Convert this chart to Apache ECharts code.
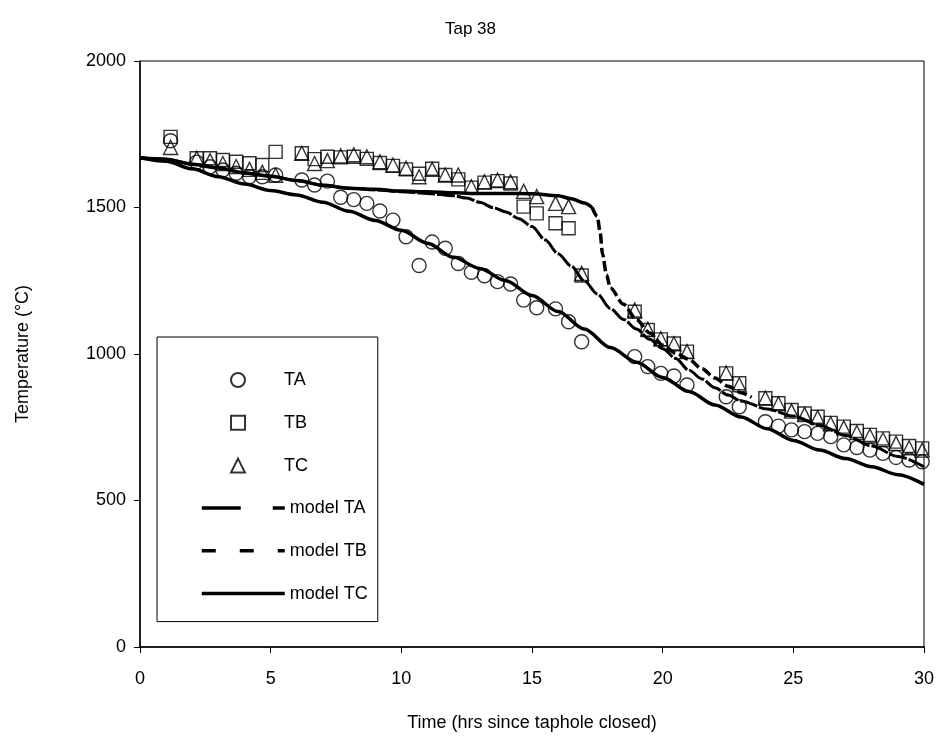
<!DOCTYPE html>
<html>
<head>
<meta charset="utf-8">
<script src="https://cdn.jsdelivr.net/npm/echarts@6/dist/echarts.min.js"></script>
<style>
html,body{margin:0;padding:0;background:#fff;}
#chart{width:941px;height:747px;}
</style>
</head>
<body>
<div id="chart"></div>
<script>
// ---------- data ----------
const titleText = 'Tap 38';
const xAxisName = 'Time (hrs since taphole closed)';
const yAxisName = 'Temperature (°C)';

const times = [1.17, 2.17, 2.68, 3.17, 3.68, 4.19, 4.68, 5.19, 6.19, 6.68, 7.17, 7.68, 8.18, 8.68, 9.18, 9.68, 10.18, 10.68, 11.18, 11.68, 12.18, 12.68, 13.18, 13.68, 14.18, 14.68, 15.18, 15.9, 16.4, 16.9, 18.93, 19.43, 19.93, 20.43, 20.93, 22.43, 22.93, 23.93, 24.43, 24.93, 25.43, 25.93, 26.43, 26.93, 27.43, 27.93, 28.43, 28.93, 29.43, 29.93];

const taValues = [1728, 1655, 1639, 1628, 1617, 1605, 1605, 1611, 1594, 1577, 1590, 1535, 1527, 1514, 1488, 1457, 1400, 1302, 1382, 1361, 1309, 1279, 1267, 1247, 1239, 1184, 1158, 1154, 1110, 1042, 991, 957, 934, 925, 894, 854, 820, 769, 754, 741, 735, 729, 718, 690, 681, 672, 661, 647, 638, 632];

const tbValues = [1741, 1668, 1668, 1662, 1656, 1651, 1645, 1690, 1685, 1665, 1673, 1671, 1673, 1666, 1652, 1642, 1630, 1615, 1632, 1611, 1596, 1568, 1585, 1590, 1582, 1503, 1480, 1446, 1429, 1268, 1144, 1082, 1050, 1036, 1008, 934, 900, 849, 832, 809, 797, 786, 765, 752, 737, 724, 712, 701, 686, 678];

const tcValues = [1705, 1668, 1660, 1650, 1640, 1630, 1620, 1610, 1685, 1650, 1660, 1676, 1680, 1673, 1656, 1645, 1634, 1605, 1630, 1611, 1611, 1571, 1588, 1594, 1588, 1555, 1537, 1514, 1503, 1275, 1150, 1085, 1052, 1035, 1008, 935, 895, 850, 830, 805, 793, 783, 762, 748, 732, 720, 708, 695, 680, 672];

// model TA (middle curve)
const modelATimes = [0, 1, 2, 3, 4, 5, 6, 7, 8, 9, 10, 11, 12, 12.5, 13, 13.5, 14, 14.5, 15, 15.5, 16, 16.5, 17, 17.5, 18, 18.5, 19, 19.5, 20, 20.5, 21, 21.5, 22, 22.5, 23, 24, 25, 26, 27, 28, 29, 30];
const modelAValues = [1670, 1665, 1648, 1635, 1618, 1607, 1592, 1576, 1566, 1560, 1554, 1548, 1540, 1532, 1518, 1500, 1485, 1462, 1435, 1390, 1342, 1300, 1250, 1205, 1155, 1118, 1085, 1050, 1018, 985, 945, 915, 885, 860, 840, 812, 788, 757, 722, 686, 650, 615];

// model TB (flat then sharp drop) – solid early part and dashed late part
const modelBTimesEarly = [0, 1, 2, 3, 4, 5, 6, 7, 8, 9, 10, 11, 12, 13, 14, 15, 16, 16.5, 17, 17.3];
const modelBValuesEarly = [1670, 1665, 1648, 1635, 1618, 1607, 1592, 1576, 1566, 1562, 1556, 1554, 1550, 1548, 1548, 1547, 1540, 1530, 1515, 1500];
const modelBTimesLate = [17.3, 17.5, 17.6, 17.7, 17.85, 18, 18.5, 19, 19.5, 20, 20.5, 21, 21.5, 22, 22.5, 23, 23.4];
const modelBValuesLate = [1500, 1470, 1420, 1340, 1270, 1225, 1170, 1118, 1072, 1030, 1003, 982, 950, 918, 890, 868, 852];

// model TC (lowest solid curve)
const modelCTimes = [0, 1, 2, 3, 4, 5, 6, 7, 8, 9, 10, 11, 12, 13, 14, 15, 16, 17, 18, 19, 20, 21, 22, 23, 24, 25, 26, 27, 28, 29, 30];
const modelCValues = [1670, 1658, 1632, 1605, 1580, 1558, 1543, 1518, 1487, 1456, 1422, 1378, 1330, 1292, 1250, 1200, 1145, 1085, 1022, 972, 920, 872, 826, 785, 745, 705, 672, 643, 615, 588, 555];

const xTicks = {min: 0, max: 30, interval: 5};
const yTicks = {min: 0, max: 2000, interval: 500};

// ---------- chart ----------
const pair = (xs, ys) => xs.map((x, i) => [x, ys[i]]);
const font = 'Arial, "Liberation Sans", sans-serif';

const markerStyle = {color: 'rgba(0,0,0,0)', borderColor: '#000', borderWidth: 1.4};
const hideDot = {opacity: 0, borderWidth: 0, color: 'rgba(0,0,0,0)'};

const chart = echarts.init(document.getElementById('chart'), null, {renderer: 'canvas'});
chart.setOption({
  animation: false,
  backgroundColor: '#fff',
  title: {
    text: titleText, left: 'center', top: 16,
    textStyle: {fontFamily: font, fontSize: 17, fontWeight: 'normal', color: '#000'}
  },
  grid: {left: 140, right: 17, top: 61, bottom: 100, show: true, borderColor: '#000', borderWidth: 1, backgroundColor: 'transparent'},
  xAxis: {
    type: 'value', min: xTicks.min, max: xTicks.max, interval: xTicks.interval,
    name: xAxisName, nameLocation: 'middle', nameGap: 67,
    nameTextStyle: {fontFamily: font, fontSize: 18, color: '#000'},
    axisLine: {lineStyle: {color: '#000', width: 1.5}},
    axisTick: {show: true, inside: false, length: 6, lineStyle: {color: '#000'}},
    axisLabel: {fontFamily: font, fontSize: 18, color: '#000', margin: 23},
    splitLine: {show: false}
  },
  yAxis: {
    type: 'value', min: yTicks.min, max: yTicks.max, interval: yTicks.interval,
    name: yAxisName, nameLocation: 'middle', nameGap: 108, nameRotate: 90,
    nameTextStyle: {fontFamily: font, fontSize: 18, color: '#000'},
    axisLine: {show: true, lineStyle: {color: '#000', width: 1.5}},
    axisTick: {show: true, inside: false, length: 6, lineStyle: {color: '#000'}},
    axisLabel: {fontFamily: font, fontSize: 18, color: '#000', margin: 14, formatter: v => String(v)},
    splitLine: {show: false}
  },
  legend: [
    {
      // line legend, its box frames the whole legend
      orient: 'vertical', left: 157, top: 337, z: 4,
      padding: [162, 10, 19, 43],
      itemWidth: 83, itemHeight: 14, itemGap: 24.8,
      backgroundColor: '#fff', borderColor: '#000', borderWidth: 1,
      selectedMode: false,
      textStyle: {fontFamily: font, fontSize: 18, color: '#000'},
      data: [
        {name: 'model TA', lineStyle: {type: [39, 32], width: 3.5, color: '#000'}, itemStyle: hideDot},
        {name: 'model TB', lineStyle: {type: [14, 24], width: 3.5, color: '#000'}, itemStyle: hideDot},
        {name: 'model TC', lineStyle: {type: 'solid', width: 3.5, color: '#000'}, itemStyle: hideDot}
      ]
    },
    {
      // marker legend
      orient: 'vertical', left: 230, top: 371, z: 6,
      padding: 0,
      itemWidth: 14, itemHeight: 14, itemGap: 24.8,
      selectedMode: false,
      textStyle: {fontFamily: font, fontSize: 18, color: '#000', padding: [0, 0, 0, 34]},
      data: [{name: 'TA'}, {name: 'TB'}, {name: 'TC'}]
    }
  ],
  series: [
    {name: 'TA', type: 'scatter', symbol: 'circle', symbolSize: 14, itemStyle: markerStyle, data: pair(times, taValues), z: 2},
    {name: 'TB', type: 'scatter', symbol: 'rect', symbolSize: 13, itemStyle: markerStyle, data: pair(times, tbValues), z: 2},
    {name: 'TC', type: 'scatter', symbol: 'triangle', symbolSize: 14, itemStyle: markerStyle, data: pair(times, tcValues), z: 2},
    {name: 'model TA', type: 'line', showSymbol: false, symbol: 'none', smooth: 0.3, smoothMonotone: 'x',
     itemStyle: {color: '#000'},
     lineStyle: {color: '#000', width: 3, type: [18, 2]}, data: pair(modelATimes, modelAValues), z: 3},
    {name: 'model TB', type: 'line', showSymbol: false, symbol: 'none', smooth: 0.3, smoothMonotone: 'x',
     itemStyle: {color: '#000'},
     lineStyle: {color: '#000', width: 3.5, type: [10, 4]}, data: pair(modelBTimesLate, modelBValuesLate), z: 3},
    {name: 'model TB', type: 'line', showSymbol: false, symbol: 'none', smooth: 0.3, smoothMonotone: 'x',
     itemStyle: {color: '#000'},
     lineStyle: {color: '#000', width: 3.5, type: 'solid'}, data: pair(modelBTimesEarly, modelBValuesEarly), z: 3},
    {name: 'model TC', type: 'line', showSymbol: false, symbol: 'none', smooth: 0.3, smoothMonotone: 'x',
     itemStyle: {color: '#000'},
     lineStyle: {color: '#000', width: 3.5, type: 'solid'}, data: pair(modelCTimes, modelCValues), z: 3}
  ]
});
</script>
</body>
</html>
